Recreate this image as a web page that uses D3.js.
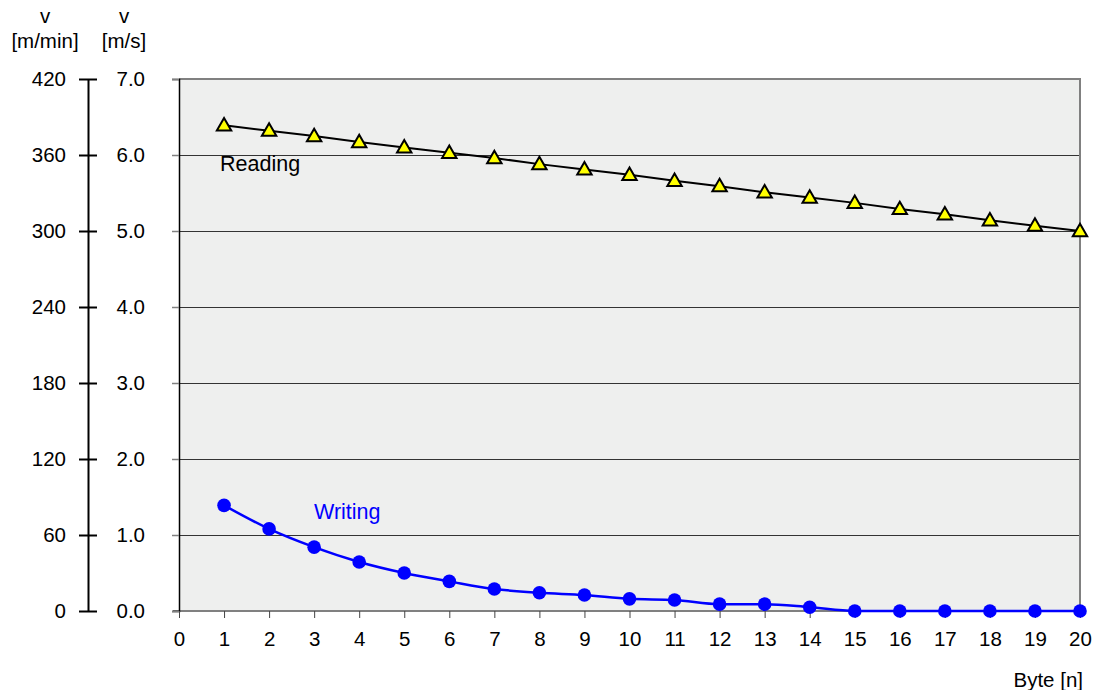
<!DOCTYPE html>
<html><head><meta charset="utf-8">
<script src="https://cdn.jsdelivr.net/npm/d3@7"></script>
<style>body{margin:0;background:#fff;font-family:"Liberation Sans",Arial,sans-serif;}</style>
</head><body>
<svg id="c" width="1107" height="690"></svg>
<script>
const bytes = [1,2,3,4,5,6,7,8,9,10,11,12,13,14,15,16,17,18,19,20];
const reading = [6.39,6.32,6.25,6.17,6.10,6.03,5.96,5.88,5.81,5.74,5.66,5.59,5.51,5.44,5.37,5.29,5.22,5.14,5.07,5.00];
const writing = [1.39,1.08,0.84,0.645,0.50,0.39,0.29,0.24,0.21,0.16,0.145,0.09,0.09,0.05,0,0,0,0,0,0];
const xTicks = d3.range(0,21);
const msTicks = [0,1,2,3,4,5,6,7];
const mminTicks = [0,60,120,180,240,300,360,420];

const svg = d3.select("#c");
const L=179, R=1080, T=79, B=611;
const x = d3.scaleLinear().domain([0,20]).range([L,R]);
const y = d3.scaleLinear().domain([0,7]).range([B,T]);
const y2 = d3.scaleLinear().domain([0,420]).range([B,T]);
const font = "Liberation Sans, Arial, sans-serif";
const FS = 20.5;

svg.append("rect").attr("x",L).attr("y",T).attr("width",R-L).attr("height",B-T).attr("fill","#eeefee");
// gridlines
svg.append("g").selectAll("line").data(msTicks.filter(d=>d>0&&d<7)).join("line")
  .attr("x1",L).attr("x2",R).attr("y1",d=>y(d)+0.5).attr("y2",d=>y(d)+0.5).attr("stroke","#333").attr("stroke-width",1).attr("shape-rendering","crispEdges");
// borders
svg.append("line").attr("x1",L).attr("x2",R+1).attr("y1",T).attr("y2",T).attr("stroke","#808080").attr("stroke-width",2);
svg.append("line").attr("x1",R).attr("x2",R).attr("y1",T).attr("y2",B).attr("stroke","#808080").attr("stroke-width",2);
svg.append("line").attr("x1",L-6).attr("x2",R+1).attr("y1",B).attr("y2",B).attr("stroke","#808080").attr("stroke-width",2);

// m/s axis (inner)
const ax = d3.axisLeft(y).tickValues(msTicks).tickSize(7).tickFormat(d3.format(".1f")).tickPadding(27);
const gA = svg.append("g").attr("transform",`translate(${L},0)`).call(ax);
gA.select(".domain").attr("stroke","#000").attr("stroke-width",1.5);
gA.selectAll(".tick line").attr("stroke","#808080").attr("stroke-width",1.5);
gA.selectAll("text").attr("font-family",font).attr("font-size",FS).attr("fill","#000");

// x axis
const axX = d3.axisBottom(x).tickValues(xTicks).tickSize(7).tickPadding(13).tickFormat(d3.format("d"));
const gX = svg.append("g").attr("transform",`translate(0,${B})`).call(axX);
gX.select(".domain").remove();
gX.selectAll(".tick line").attr("stroke","#444").attr("stroke-width",1);
gX.selectAll("text").attr("font-family",font).attr("font-size",FS).attr("fill","#000");

// m/min axis (outer)
const ax2 = d3.axisLeft(y2).tickValues(mminTicks).tickSizeInner(9).tickSizeOuter(0).tickPadding(13);
const gB = svg.append("g").attr("transform",`translate(88,0)`).call(ax2);
gB.select(".domain").attr("stroke","#000").attr("stroke-width",2);
gB.selectAll(".tick line").attr("stroke","#000").attr("stroke-width",2).attr("x2",9).attr("x1",-9);
gB.selectAll("text").attr("font-family",font).attr("font-size",FS).attr("fill","#000").attr("x",-22);

// headers
const hdr = [["v",45,23],["[m/min]",45,48],["v",124,23],["[m/s]",124,48]];
svg.append("g").selectAll("text").data(hdr).join("text").attr("x",d=>d[1]).attr("y",d=>d[2])
  .attr("text-anchor","middle").attr("font-family",font).attr("font-size",FS).text(d=>d[0]);
svg.append("text").attr("x",1083).attr("y",687).attr("text-anchor","end").attr("font-family",font).attr("font-size",FS).text("Byte [n]");

// Reading
svg.append("path").datum(bytes.map((b,i)=>[b,reading[i]])).attr("fill","none").attr("stroke","#000").attr("stroke-width",2)
  .attr("d",d3.line().x(d=>x(d[0])).y(d=>y(d[1])));
const tri = d3.symbol().type(d3.symbolTriangle).size(90);
svg.append("g").selectAll("path").data(bytes.map((b,i)=>[b,reading[i]])).join("path")
  .attr("transform",d=>`translate(${x(d[0])},${y(d[1])+1})`).attr("d",tri).attr("fill","#ffff00").attr("stroke","#000").attr("stroke-width",2);

// Writing
const wdat = bytes.map((b,i)=>[b,writing[i]]);
svg.append("path").datum(wdat).attr("fill","none").attr("stroke","#0000ff").attr("stroke-width",2.5)
  .attr("d",d3.line().x(d=>x(d[0])).y(d=>y(d[1])).curve(d3.curveMonotoneX));
svg.append("g").selectAll("circle").data(wdat).join("circle")
  .attr("cx",d=>x(d[0])).attr("cy",d=>y(d[1])).attr("r",6.8).attr("fill","#0000ff");

svg.append("text").attr("x",220).attr("y",171).attr("font-family",font).attr("font-size",21.5).attr("fill","#000").text("Reading");
svg.append("text").attr("x",314).attr("y",519).attr("font-family",font).attr("font-size",21.5).attr("fill","#0000ff").text("Writing");
</script>
</body></html>
